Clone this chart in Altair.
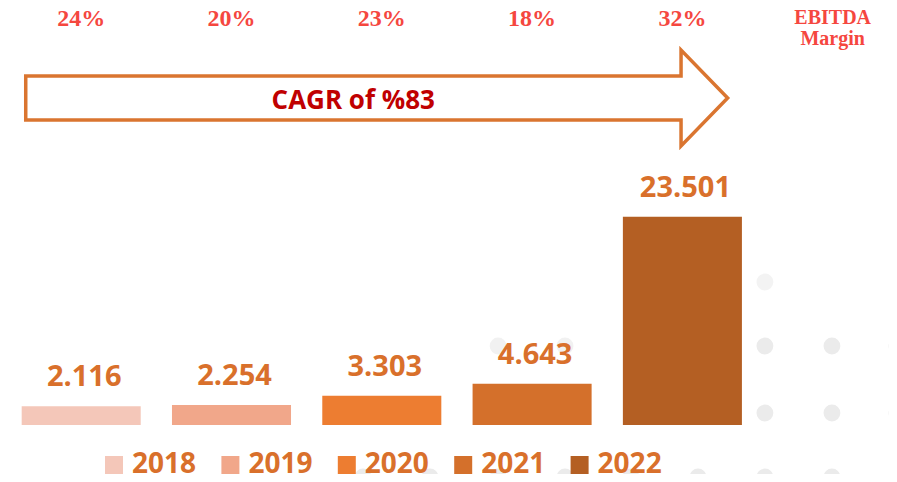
import altair as alt
import pandas as pd

# ---- data ----
years = ["2018", "2019", "2020", "2021", "2022"]
ebitda = [2.116, 2.254, 3.303, 4.643, 23.501]
ebitda_labels = ["2.116", "2.254", "3.303", "4.643", "23.501"]
margins = ["24%", "20%", "23%", "18%", "32%"]
bar_colors = ["#F4C7B9", "#F1A78A", "#ED7D31", "#D4702B", "#B45F23"]
margin_title = "EBITDA\nMargin"
cagr_text = "CAGR of %83"

# arrow outline (x in year-slot units, y in value units)
arrow_x = [-0.369, 3.991, 3.991, 4.301, 3.991, 3.991, -0.369, -0.369]
arrow_y = [39.37, 39.37, 42.31, 36.89, 31.48, 34.41, 34.41, 39.37]

# decorative background dots (same units)
dot_x = [2.774, 3.219, 4.549, 4.995, 5.428,
         4.549, 4.995, 5.428,
         1.875, 2.321, 2.774, 3.219, 3.658, 4.104, 4.549, 4.995, 5.428,
         4.549]
dot_y = [8.91] * 5 + [1.35] * 3 + [-5.87] * 9 + [16.13]
dot_alpha = [0.7, 0.7, 1, 1, 1,
             1, 1, 1,
             1, 1, 1, 1, 1, 1, 1, 1, 1,
             0.6]

# ---- tables ----
idx = list(range(len(years)))
half = 0.396
bars = pd.DataFrame({
    "year": years, "i": idx, "lo": [i - half for i in idx], "hi": [i + half for i in idx],
    "v": ebitda, "zero": [0] * len(years), "label": ebitda_labels, "margin": margins,
})
arrow = pd.DataFrame({"x": arrow_x, "y": arrow_y, "k": list(range(len(arrow_x)))})
dots = pd.DataFrame({"x": dot_x, "y": dot_y, "a": dot_alpha})
title_df = pd.DataFrame({"x": [len(years)], "t": [margin_title]})
cagr_df = pd.DataFrame({"x": [1.81], "y": [35.6], "t": [cagr_text]})

XS = alt.Scale(domain=[-0.487, 5.3746], nice=False, zero=False)
YS = alt.Scale(domain=[-5.528, 47.044], nice=False, zero=False)
ORANGE_TXT = "#D9702B"

dot_layer = alt.Chart(dots).mark_circle(color="#EBEBEB", size=283).encode(
    x=alt.X("x:Q", scale=XS, axis=None),
    y=alt.Y("y:Q", scale=YS, axis=None),
    opacity=alt.Opacity("a:Q", scale=None, legend=None),
)

bar_layer = alt.Chart(bars).mark_bar().encode(
    x=alt.X("lo:Q", scale=XS, axis=None),
    x2="hi:Q",
    y=alt.Y("v:Q", scale=YS, axis=None),
    y2="zero:Q",
    color=alt.Color(
        "year:N",
        scale=alt.Scale(domain=years, range=bar_colors),
        legend=alt.Legend(
            orient="none", legendX=92, legendY=443, direction="horizontal",
            title=None, symbolType="square", symbolSize=324, symbolStrokeWidth=0,
            labelFont="Open Sans", labelFontSize=28, labelFontWeight="bold",
            labelColor=ORANGE_TXT, labelOffset=4, columnPadding=19.4, padding=0,
        ),
    ),
)

value_layer = alt.Chart(bars).mark_text(
    font="Open Sans", fontSize=29, fontWeight="bold", color=ORANGE_TXT,
    baseline="alphabetic", align="center", dy=-20, dx=3,
).encode(
    x=alt.X("i:Q", scale=XS, axis=None),
    y=alt.Y("v:Q", scale=YS, axis=None),
    text="label:N",
)

margin_layer = alt.Chart(bars).mark_text(
    font="Liberation Serif", fontSize=24, fontWeight="bold", color="#F5473F",
    baseline="alphabetic", align="center",
).encode(
    x=alt.X("i:Q", scale=XS, axis=None),
    y=alt.value(17.7),
    text="margin:N",
)

title_layer = alt.Chart(title_df).mark_text(
    font="Liberation Serif", fontSize=20, fontWeight="bold", color="#F5473F",
    baseline="alphabetic", align="center", lineBreak="\n", lineHeight=21,
).encode(
    x=alt.X("x:Q", scale=XS, axis=None),
    y=alt.value(16),
    text="t:N",
)

arrow_layer = alt.Chart(arrow).mark_line(
    color="#DA7530", strokeWidth=3.5, strokeJoin="miter", strokeCap="square",
).encode(
    x=alt.X("x:Q", scale=XS, axis=None),
    y=alt.Y("y:Q", scale=YS, axis=None),
    order="k:Q",
)

cagr_layer = alt.Chart(cagr_df).mark_text(
    font="Open Sans", fontSize=26, fontWeight="bold", color="#C00000",
    baseline="alphabetic", align="center",
).encode(
    x=alt.X("x:Q", scale=XS, axis=None),
    y=alt.Y("y:Q", scale=YS, axis=None),
    text="t:N",
)

chart = alt.layer(
    dot_layer, arrow_layer, bar_layer, value_layer, margin_layer, title_layer, cagr_layer
).properties(
    width=881, height=466, padding=0,
    autosize=alt.AutoSizeParams(type="none"),
    background="white",
).configure_view(stroke=None)

chart.save("out.html", embed_options={"renderer": "svg", "actions": False})
